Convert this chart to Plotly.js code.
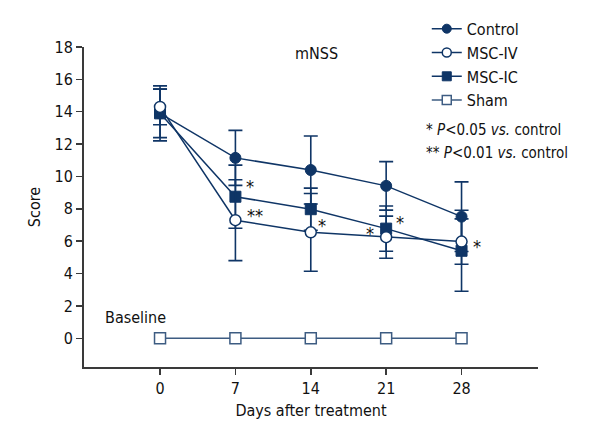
<!DOCTYPE html>
<html>
<head>
<meta charset="utf-8">
<script src="https://cdn.plot.ly/plotly-3.0.1.min.js"></script>
<style>html,body{margin:0;padding:0;background:#fff;}#chart{width:600px;height:440px;} svg text{font-stretch:condensed;}</style>
</head>
<body>
<div id="chart"></div>
<script>
var days = [0, 7, 14, 21, 28];
var tickLabels = ['0', '7', '14', '21', '28'];
var controlMean = [13.9, 11.15, 10.4, 9.42, 7.52];
var controlErr = [1.7, 1.7, 2.1, 1.5, 2.15];
var ivMean = [14.3, 7.3, 6.55, 6.25, 5.98];
var ivErr = [1.1, 2.5, 2.4, 1.3, 1.4];
var icMean = [13.9, 8.75, 7.98, 6.78, 5.41];
var icErr = [1.5, 1.95, 1.3, 1.4, 2.5];
var shamMean = [0, 0, 0, 0, 0];
var seriesNames = ['Control', 'MSC-IV', 'MSC-IC', 'Sham'];

var navy = '#0f3566';
var shamCol = '#3d5c82';
var FONT = '"DejaVu Sans Condensed", "Liberation Sans Narrow", sans-serif';

function errBar(arr, col) {
  return {type: 'data', array: arr, visible: true, color: col, thickness: 1.6, width: 7};
}
var markers = [
  {symbol: 'circle', size: 11, color: navy, line: {color: navy, width: 1}},
  {symbol: 'circle', size: 11, color: '#ffffff', line: {color: navy, width: 1.5}},
  {symbol: 'square', size: 11, color: navy, line: {color: navy, width: 1}},
  {symbol: 'square', size: 11, color: '#ffffff', line: {color: shamCol, width: 1.5}}
];
var lineCols = [navy, navy, navy, shamCol];
var means = [controlMean, ivMean, icMean, shamMean];
var errs = [controlErr, ivErr, icErr, null];

var traces = [];
var drawOrder = [0, 2, 3, 1];
drawOrder.forEach(function (i) {
  var t = {x: days, y: means[i], name: seriesNames[i], mode: 'lines+markers', type: 'scatter',
    line: {color: lineCols[i], width: 1.5}, marker: markers[i], showlegend: false};
  if (errs[i]) t.error_y = errBar(errs[i], navy);
  traces.push(t);
});
for (var j = 0; j < 4; j++) {
  var m = JSON.parse(JSON.stringify(markers[j]));
  m.size = 9;
  traces.push({x: [null], y: [null], name: seriesNames[j], mode: 'lines+markers', type: 'scatter',
    line: {color: lineCols[j], width: 1.5}, marker: m, showlegend: true});
}

var stars = [
  {x: 8.4, y: 9.4, t: '*'},
  {x: 8.8, y: 7.6, t: '**'},
  {x: 15.0, y: 7.0, t: '*'},
  {x: 19.5, y: 6.45, t: '*'},
  {x: 22.3, y: 7.15, t: '*'},
  {x: 29.4, y: 5.65, t: '*'}
];
var annotations = stars.map(function (s) {
  return {x: s.x, y: s.y, xref: 'x', yref: 'y', text: s.t, showarrow: false,
          font: {family: FONT, size: 18, color: '#111'}, xanchor: 'center', yanchor: 'middle'};
});
annotations.push({x: 14.5, y: 17.6, xref: 'x', yref: 'y', text: 'mNSS', showarrow: false,
  font: {family: FONT, size: 16, color: '#111'}, xanchor: 'center', yanchor: 'middle'});
annotations.push({x: -5.3, y: 1.3, xref: 'x', yref: 'y', text: 'Baseline', showarrow: false,
  font: {family: FONT, size: 16, color: '#111'}, xanchor: 'left', yanchor: 'middle'});
annotations.push({x: 424, y: 127, xref: 'paper', yref: 'paper', text: '* <i>P</i>&lt;0.05 <i>vs.</i> control', showarrow: false,
  font: {family: FONT, size: 15, color: '#111'}, xanchor: 'left', yanchor: 'middle'});
annotations.push({x: 424, y: 150, xref: 'paper', yref: 'paper', text: '** <i>P</i>&lt;0.01 <i>vs.</i> control', showarrow: false,
  font: {family: FONT, size: 15, color: '#111'}, xanchor: 'left', yanchor: 'middle'});
var L = 84, R = 538, T = 43, B = 367;
annotations.forEach(function (a) {
  if (a.xref === 'paper') {
    a.x = (a.x - L) / (R - L);
    a.y = (B - a.y) / (B - T);
  }
});

var layout = {
  width: 600, height: 440,
  margin: {l: L, r: 600 - R, t: T, b: 440 - B, pad: 0},
  paper_bgcolor: '#fff', plot_bgcolor: '#fff',
  font: {family: FONT, size: 15, color: '#111'},
  showlegend: true,
  legend: {x: 0.755, y: 1.11, xanchor: 'left', yanchor: 'top', bgcolor: 'rgba(0,0,0,0)',
           font: {family: FONT, size: 16, color: '#111'}, tracegroupgap: 0},
  xaxis: {range: [-7.06, 35.1], tickvals: days, ticktext: tickLabels, showgrid: false, zeroline: false,
          showline: true, linecolor: '#3a3a3a', linewidth: 2, ticks: 'outside', ticklen: 6, tickcolor: '#3a3a3a', tickwidth: 1.5,
          tickfont: {family: FONT, size: 16, color: '#111'},
          title: {text: 'Days after treatment', font: {family: FONT, size: 16, color: '#111'}, standoff: 8}},
  yaxis: {range: [-1.77, 18], tickvals: [0, 2, 4, 6, 8, 10, 12, 14, 16, 18], showgrid: false, zeroline: false,
          showline: true, linecolor: '#3a3a3a', linewidth: 2, ticks: 'outside', ticklen: 6, tickcolor: '#3a3a3a', tickwidth: 1.5,
          tickfont: {family: FONT, size: 16, color: '#111'},
          title: {text: 'Score', font: {family: FONT, size: 16, color: '#111'}, standoff: 10}},
  annotations: annotations
};

Plotly.newPlot('chart', traces, layout, {displayModeBar: false, staticPlot: true});
</script>
</body>
</html>
